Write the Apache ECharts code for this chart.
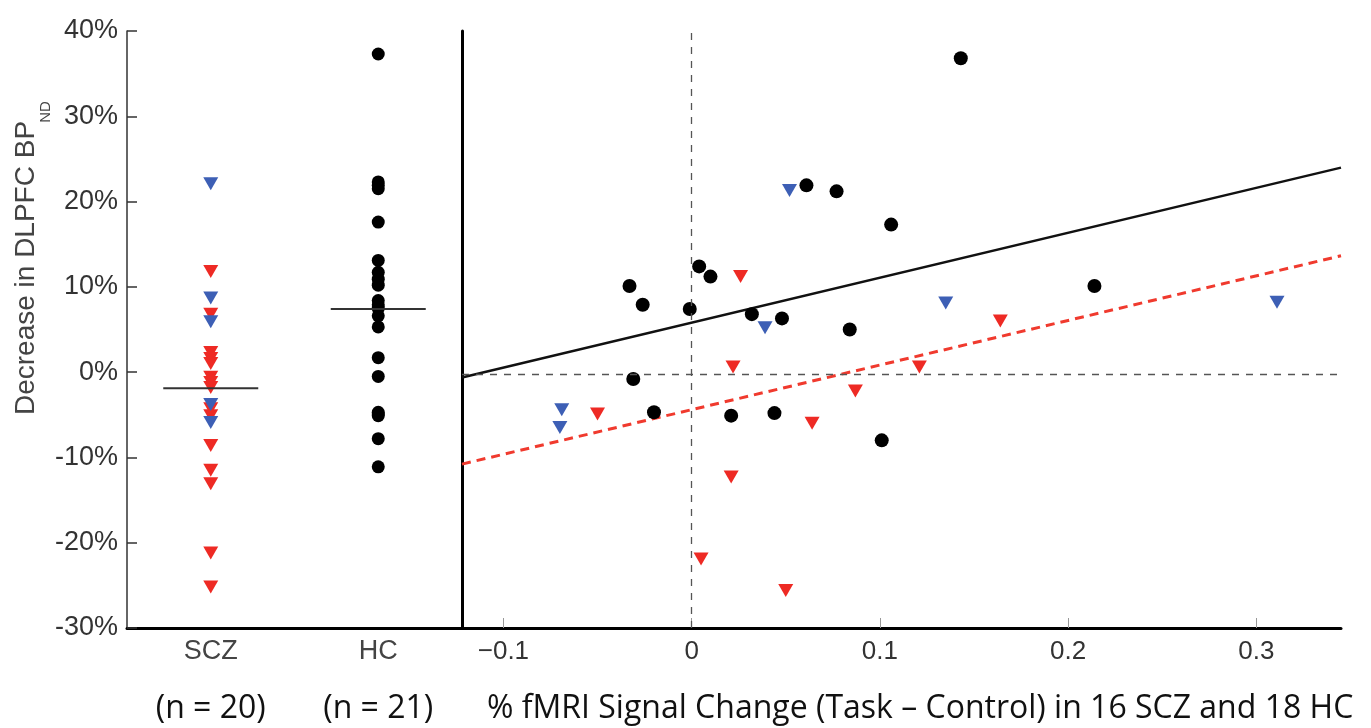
<!DOCTYPE html>
<html>
<head>
<meta charset="utf-8">
<script src="https://cdn.jsdelivr.net/npm/echarts@6/dist/echarts.min.js"></script>
<style>
  html, body { margin: 0; padding: 0; background: #fff; }
  #main { width: 1371px; height: 728px; }
</style>
</head>
<body>
<div id="main"></div>
<script>
// left panel: % decrease per subject, by group
const groups = ['SCZ', 'HC'];
const sczRedLeft = [11.8, 6.8, 2.3, 1.6, 1.0, -0.6, -1.2, -1.8, -4.3, -5.1, -8.6, -11.5, -13.1, -21.2, -25.2];
const sczBlueLeft = [22.1, 8.7, 5.9, -3.8, -5.9];
const hcLeft = [37.3, 22.3, 21.9, 21.5, 17.6, 13.1, 11.7, 10.9, 10.2, 8.4, 7.9, 7.5, 6.6, 5.3, 1.7, -0.5, -4.7, -4.9, -5.1, -7.8, -11.1];
const groupMeans = [-1.9, 7.4];

// right panel: [fMRI signal change, % decrease]
const hcRight = [
  [0.061, 22.2], [0.077, 21.5], [0.106, 17.6], [0.004, 12.7], [0.010, 11.5], [-0.033, 10.4],
  [-0.026, 8.2], [-0.001, 7.7], [0.032, 7.1], [0.048, 6.6], [0.084, 5.3], [0.143, 37.1],
  [0.214, 10.4], [-0.031, -0.5], [-0.020, -4.4], [0.021, -4.8], [0.044, -4.5], [0.101, -7.7]
];
const sczBlueRight = [[0.052, 21.6], [0.039, 5.5], [0.135, 8.4], [0.311, 8.5], [-0.069, -4.1], [-0.070, -6.2]];
const sczRedRight = [
  [0.026, 11.5], [0.164, 6.3], [0.022, 0.9], [0.121, 0.9], [0.087, -1.9],
  [0.064, -5.7], [-0.050, -4.6], [0.021, -12.0], [0.005, -21.6], [0.050, -25.3]
];
// regression fits: [intercept, slope]
const hcFit = [6.1, 52.7];
const sczFit = [-4.1, 52.3];
const xRange = [-0.122, 0.345];
const xTicks = [-0.1, 0, 0.1, 0.2, 0.3];

const RED = '#ee2a24';
const BLUE = '#3d5fb5';
const counts = [sczRedLeft.length + sczBlueLeft.length, hcLeft.length];
const sczRightCount = sczRedRight.length + sczBlueRight.length;

const fitLine = (fit) => xRange.map(x => [x, fit[0] + fit[1] * x]);
const tri = { symbol: 'triangle', symbolRotate: 180, symbolSize: [15, 13] };

const chart = echarts.init(document.getElementById('main'));

const option = {
  animation: false,
  backgroundColor: '#fff',
  grid: [
    { left: 127, width: 335, top: 31, bottom: 100 },
    { left: 462, width: 879, top: 31, bottom: 100 }
  ],
  xAxis: [
    {
      gridIndex: 0,
      type: 'category',
      data: groups,
      axisLine: { onZero: false, lineStyle: { color: '#000', width: 3 } },
      axisTick: { show: false },
      axisLabel: {
        margin: 7,
        formatter: (v, i) => '{c|' + v + '}\n{n|(n = ' + counts[i] + ')}',
        rich: {
          c: { fontSize: 27, fontFamily: 'Liberation Sans', color: '#444', lineHeight: 34 },
          n: { fontSize: 32, fontFamily: 'Open Sans', color: '#111', lineHeight: 80 }
        }
      }
    },
    {
      gridIndex: 1,
      type: 'value',
      min: xRange[0],
      max: xRange[1],
      splitLine: { show: false },
      axisLine: { onZero: false, lineStyle: { color: '#000', width: 3 } },
      axisTick: { inside: true, length: 10, customValues: xTicks, lineStyle: { color: '#999', width: 1 } },
      axisLabel: {
        customValues: xTicks,
        margin: 11,
        fontSize: 26,
        fontFamily: 'Liberation Sans',
        color: '#333',
        formatter: v => v < 0 ? '\u2212' + (-v) : String(v)
      }
    }
  ],
  yAxis: [
    {
      gridIndex: 0,
      type: 'value',
      min: -30,
      max: 40,
      interval: 10,
      splitLine: { show: false },
      axisLine: { show: true, onZero: false, lineStyle: { color: '#333', width: 1.5 } },
      axisTick: { show: true, inside: true, length: 10, lineStyle: { color: '#333', width: 1.5 } },
      axisLabel: { margin: 9, fontSize: 27, fontFamily: 'Liberation Sans', color: '#333', formatter: '{value}%' }
    },
    {
      gridIndex: 1,
      type: 'value',
      min: -29.7,
      max: 40.3,
      splitLine: { show: false },
      axisLine: { show: true, onZero: false, lineStyle: { color: '#000', width: 3 } },
      axisTick: { show: false },
      axisLabel: { show: false }
    }
  ],
  graphic: [
    {
      type: 'text', x: 26, y: 268, rotation: Math.PI / 2,
      style: { text: 'Decrease in DLPFC BP', font: '28px "Liberation Sans"', fill: '#444', textAlign: 'center', textVerticalAlign: 'middle' }
    },
    {
      type: 'text', x: 46, y: 112, rotation: Math.PI / 2,
      style: { text: 'ND', font: '15px "Liberation Sans"', fill: '#444', textAlign: 'center', textVerticalAlign: 'middle' }
    },
    {
      type: 'text', x: 487, y: 709,
      style: {
        text: '% fMRI Signal Change (Task \u2013 Control) in ' + sczRightCount + ' SCZ and ' + hcRight.length + ' HC',
        font: '32px "Open Sans"', fill: '#111', textAlign: 'left', textVerticalAlign: 'middle'
      }
    }
  ],
  series: [
    // left panel
    { type: 'scatter', xAxisIndex: 0, yAxisIndex: 0, ...tri, itemStyle: { color: RED, opacity: 1 }, data: sczRedLeft.map(v => ['SCZ', v]), z: 3 },
    { type: 'scatter', xAxisIndex: 0, yAxisIndex: 0, ...tri, itemStyle: { color: BLUE, opacity: 1 }, data: sczBlueLeft.map(v => ['SCZ', v]), z: 3 },
    { type: 'scatter', xAxisIndex: 0, yAxisIndex: 0, symbol: 'circle', symbolSize: 13, itemStyle: { color: '#000', opacity: 1 }, data: hcLeft.map(v => ['HC', v]), z: 3 },
    { type: 'scatter', xAxisIndex: 0, yAxisIndex: 0, symbol: 'rect', symbolSize: [95, 2], itemStyle: { color: '#333', opacity: 1 }, data: groups.map((g, i) => [g, groupMeans[i]]), z: 4 },
    // right panel
    {
      type: 'line', xAxisIndex: 1, yAxisIndex: 1, symbol: 'none', data: fitLine(hcFit),
      lineStyle: { color: '#111', width: 2.5 }, z: 2,
      markLine: {
        silent: true, symbol: 'none', label: { show: false },
        lineStyle: { color: '#555', width: 1.3, type: [7, 7] },
        data: [{ xAxis: 0 }, { yAxis: 0 }]
      }
    },
    { type: 'line', xAxisIndex: 1, yAxisIndex: 1, symbol: 'none', data: fitLine(sczFit), lineStyle: { color: '#f03a2e', width: 3, type: [9, 6] }, z: 2 },
    { type: 'scatter', xAxisIndex: 1, yAxisIndex: 1, symbol: 'circle', symbolSize: 14, itemStyle: { color: '#000', opacity: 1 }, data: hcRight, z: 3 },
    { type: 'scatter', xAxisIndex: 1, yAxisIndex: 1, ...tri, itemStyle: { color: BLUE, opacity: 1 }, data: sczBlueRight, z: 3 },
    { type: 'scatter', xAxisIndex: 1, yAxisIndex: 1, ...tri, itemStyle: { color: RED, opacity: 1 }, data: sczRedRight, z: 3 }
  ]
};

chart.setOption(option);
</script>
</body>
</html>
